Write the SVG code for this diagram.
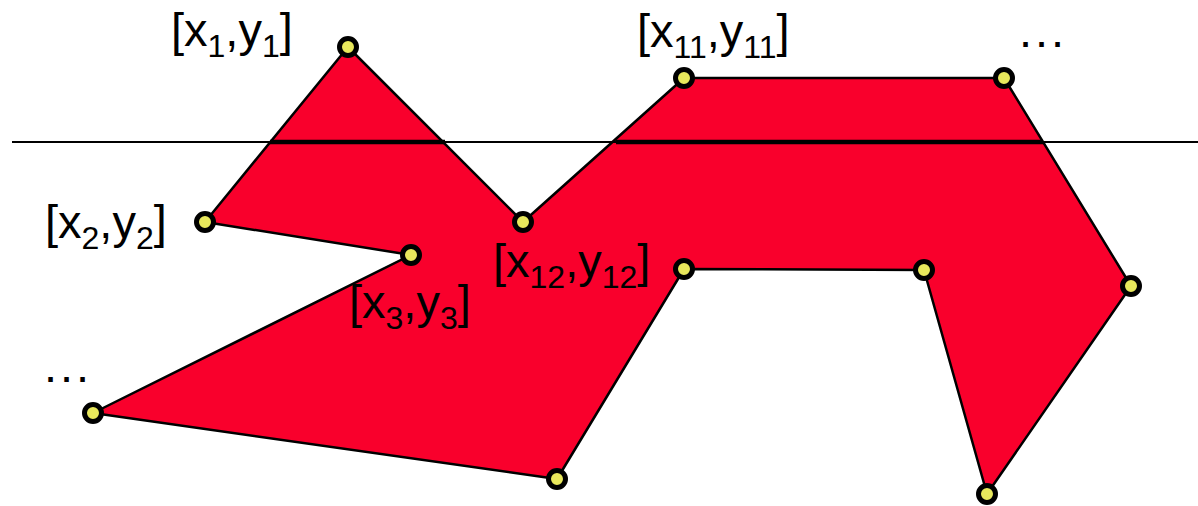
<svg xmlns="http://www.w3.org/2000/svg" width="1198" height="506" viewBox="0 0 1198 506">
<style>
.lbl{font-family:"Liberation Sans",Arial,sans-serif;font-size:47px;fill:#000}
.sub{font-size:32px}
.dots{letter-spacing:3px}
.v{fill:#e8e85c;stroke:#000;stroke-width:5}
</style>
<rect width="1198" height="506" fill="#fff"/>
<g id="polygon">
<polygon points="348,47 205,222 411,255 93,413 557,479 684,269 924,270 987,494 1131,286 1004,78 684,78 523,222" fill="#f9002c" stroke="#000" stroke-width="2.5" stroke-linejoin="round"/>
</g>
<g id="connectors">
<line x1="12" y1="142" x2="1198" y2="142" stroke="#000" stroke-width="2"/>
<line x1="270" y1="142" x2="445" y2="142" stroke="#000" stroke-width="4.5"/>
<line x1="616" y1="142" x2="1043" y2="142" stroke="#000" stroke-width="4.5"/>
</g>
<g id="vertices">
<circle class="v" cx="348" cy="47" r="8.5"/>
<circle class="v" cx="205" cy="222" r="8.5"/>
<circle class="v" cx="411" cy="255" r="8.5"/>
<circle class="v" cx="93" cy="413" r="8.5"/>
<circle class="v" cx="557" cy="479" r="8.5"/>
<circle class="v" cx="684" cy="269" r="8.5"/>
<circle class="v" cx="924" cy="270" r="8.5"/>
<circle class="v" cx="987" cy="494" r="8.5"/>
<circle class="v" cx="1131" cy="286" r="8.5"/>
<circle class="v" cx="1004" cy="78" r="8.5"/>
<circle class="v" cx="684" cy="78" r="8.5"/>
<circle class="v" cx="523" cy="222" r="8.5"/>
</g>
<g id="labels">
<text class="lbl" x="171" y="46">[x<tspan class="sub" dy="11">1</tspan><tspan dy="-11">,y</tspan><tspan class="sub" dy="11">1</tspan><tspan dy="-11">]</tspan></text>
<text class="lbl" x="45" y="238">[x<tspan class="sub" dy="11">2</tspan><tspan dy="-11">,y</tspan><tspan class="sub" dy="11">2</tspan><tspan dy="-11">]</tspan></text>
<text class="lbl" x="349" y="318">[x<tspan class="sub" dy="11">3</tspan><tspan dy="-11">,y</tspan><tspan class="sub" dy="11">3</tspan><tspan dy="-11">]</tspan></text>
<text class="lbl" x="493" y="277">[x<tspan class="sub" dy="11">12</tspan><tspan dy="-11">,y</tspan><tspan class="sub" dy="11">12</tspan><tspan dy="-11">]</tspan></text>
<text class="lbl" x="637" y="47">[x<tspan class="sub" dy="11">11</tspan><tspan dy="-11">,y</tspan><tspan class="sub" dy="11">11</tspan><tspan dy="-11">]</tspan></text>
<text class="lbl dots" x="1019" y="47">...</text>
<text class="lbl dots" x="44" y="382">...</text>
</g>
</svg>
